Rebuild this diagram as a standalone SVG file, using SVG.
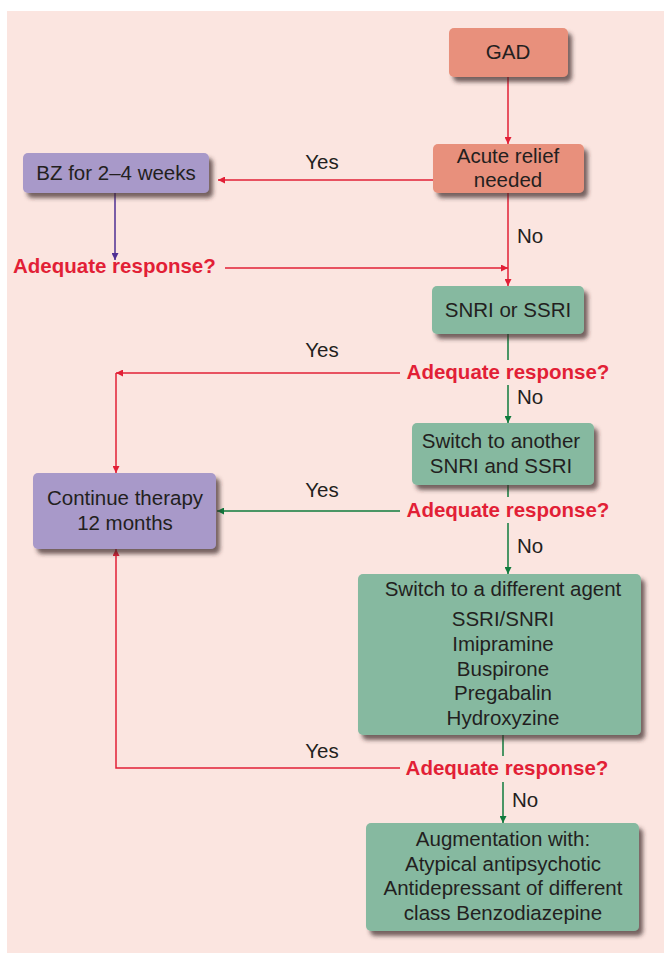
<svg xmlns="http://www.w3.org/2000/svg" width="664" height="953" viewBox="0 0 664 953">
  <defs>
    <filter id="shadow" x="-20%" y="-20%" width="150%" height="160%">
      <feDropShadow dx="4" dy="5" stdDeviation="2.2" flood-color="#3a2a2a" flood-opacity="0.7"/>
    </filter>
    <marker id="arrRed" viewBox="0 0 10 10" refX="10" refY="5" markerWidth="7" markerHeight="7" orient="auto" markerUnits="userSpaceOnUse">
      <path d="M0,0 L10,5 L0,10 Z" fill="#e21f36"/>
    </marker>
    <marker id="arrGreen" viewBox="0 0 10 10" refX="10" refY="5" markerWidth="7" markerHeight="7" orient="auto" markerUnits="userSpaceOnUse">
      <path d="M0,0 L10,5 L0,10 Z" fill="#0f7a3c"/>
    </marker>
    <marker id="arrPurple" viewBox="0 0 10 10" refX="10" refY="5" markerWidth="7" markerHeight="7" orient="auto" markerUnits="userSpaceOnUse">
      <path d="M0,0 L10,5 L0,10 Z" fill="#4f2f95"/>
    </marker>
  </defs>
  <style>
    text { font-family: "Liberation Sans", Arial, Helvetica, sans-serif; font-size: 20.5px; fill: #231f20; }
    .c { text-anchor: middle; }
    .q { font-weight: bold; fill: #e21f36; }
    .box { stroke: none; filter: url(#shadow); }
    .salmon { fill: #e8907b; }
    .purple { fill: #a899c9; }
    .green { fill: #86b9a0; }
    .lr { stroke: #e21f36; stroke-width: 1.5; fill: none; }
    .lg { stroke: #0f7a3c; stroke-width: 1.5; fill: none; }
    .lp { stroke: #4f2f95; stroke-width: 1.5; fill: none; }
  </style>

  <rect x="7" y="11" width="657" height="942" fill="#fbe5e0"/>

  <g id="connectors">
    <line class="lr" x1="508" y1="77" x2="508" y2="144" marker-end="url(#arrRed)"/>
    <line class="lr" x1="433" y1="180" x2="218" y2="180" marker-end="url(#arrRed)"/>
    <line class="lp" x1="115" y1="193" x2="115" y2="260" marker-end="url(#arrPurple)"/>
    <line class="lr" x1="225" y1="268" x2="508" y2="268" marker-end="url(#arrRed)"/>
    <line class="lr" x1="508" y1="193" x2="508" y2="286" marker-end="url(#arrRed)"/>
    <line class="lg" x1="508" y1="334" x2="508" y2="360"/>
    <line class="lg" x1="508" y1="385" x2="508" y2="423" marker-end="url(#arrGreen)"/>
    <line class="lr" x1="400" y1="373" x2="116" y2="373" marker-end="url(#arrRed)"/>
    <line class="lr" x1="116" y1="373" x2="116" y2="473" marker-end="url(#arrRed)"/>
    <line class="lg" x1="508" y1="485" x2="508" y2="497"/>
    <line class="lg" x1="508" y1="523" x2="508" y2="574" marker-end="url(#arrGreen)"/>
    <line class="lg" x1="400" y1="511" x2="217" y2="511" marker-end="url(#arrGreen)"/>
    <line class="lg" x1="503" y1="735" x2="503" y2="756"/>
    <line class="lg" x1="503" y1="782" x2="503" y2="823" marker-end="url(#arrGreen)"/>
    <polyline class="lr" points="400,768 116,768 116,549" marker-end="url(#arrRed)"/>

    <text x="322" y="169" class="c">Yes</text>
    <text x="517" y="243">No</text>
    <text x="322" y="357" class="c">Yes</text>
    <text x="517" y="404">No</text>
    <text x="322" y="497" class="c">Yes</text>
    <text x="517" y="553">No</text>
    <text x="322" y="758" class="c">Yes</text>
    <text x="512" y="807">No</text>

    <text x="13" y="273" class="q">Adequate response?</text>
    <text x="508" y="379" class="q c">Adequate response?</text>
    <text x="508" y="517" class="q c">Adequate response?</text>
    <text x="507" y="775" class="q c">Adequate response?</text>
  </g>

  <g id="gad">
    <rect class="box salmon" x="449" y="28" width="119" height="49" rx="5"/>
    <text x="508" y="59" class="c">GAD</text>
  </g>

  <g id="acute-relief">
    <rect class="box salmon" x="433" y="144" width="151" height="49" rx="5"/>
    <text x="508" y="163" class="c">Acute relief</text>
    <text x="508" y="187" class="c">needed</text>
  </g>

  <g id="bz">
    <rect class="box purple" x="23" y="153" width="186" height="40" rx="5"/>
    <text x="116" y="180" class="c">BZ for 2–4 weeks</text>
  </g>

  <g id="snri-ssri">
    <rect class="box green" x="432" y="286" width="152" height="48" rx="5"/>
    <text x="508" y="317" class="c">SNRI or SSRI</text>
  </g>

  <g id="switch-another">
    <rect class="box green" x="412" y="423" width="182" height="62" rx="5"/>
    <text x="501" y="448" class="c">Switch to another</text>
    <text x="501" y="473" class="c">SNRI and SSRI</text>
  </g>

  <g id="continue-therapy">
    <rect class="box purple" x="33" y="473" width="183" height="76" rx="5"/>
    <text x="125" y="505" class="c">Continue therapy</text>
    <text x="125" y="530" class="c">12 months</text>
  </g>

  <g id="switch-different">
    <rect class="box green" x="358" y="574" width="283" height="161" rx="5"/>
    <text x="503" y="596" class="c">Switch to a different agent</text>
    <text x="503" y="626" class="c">SSRI/SNRI</text>
    <text x="503" y="651" class="c">Imipramine</text>
    <text x="503" y="676" class="c">Buspirone</text>
    <text x="503" y="700" class="c">Pregabalin</text>
    <text x="503" y="725" class="c">Hydroxyzine</text>
  </g>

  <g id="augmentation">
    <rect class="box green" x="366" y="823" width="273" height="108" rx="5"/>
    <text x="503" y="846" class="c">Augmentation with:</text>
    <text x="503" y="871" class="c">Atypical antipsychotic</text>
    <text x="503" y="895" class="c">Antidepressant of different</text>
    <text x="503" y="920" class="c">class Benzodiazepine</text>
  </g>
</svg>
